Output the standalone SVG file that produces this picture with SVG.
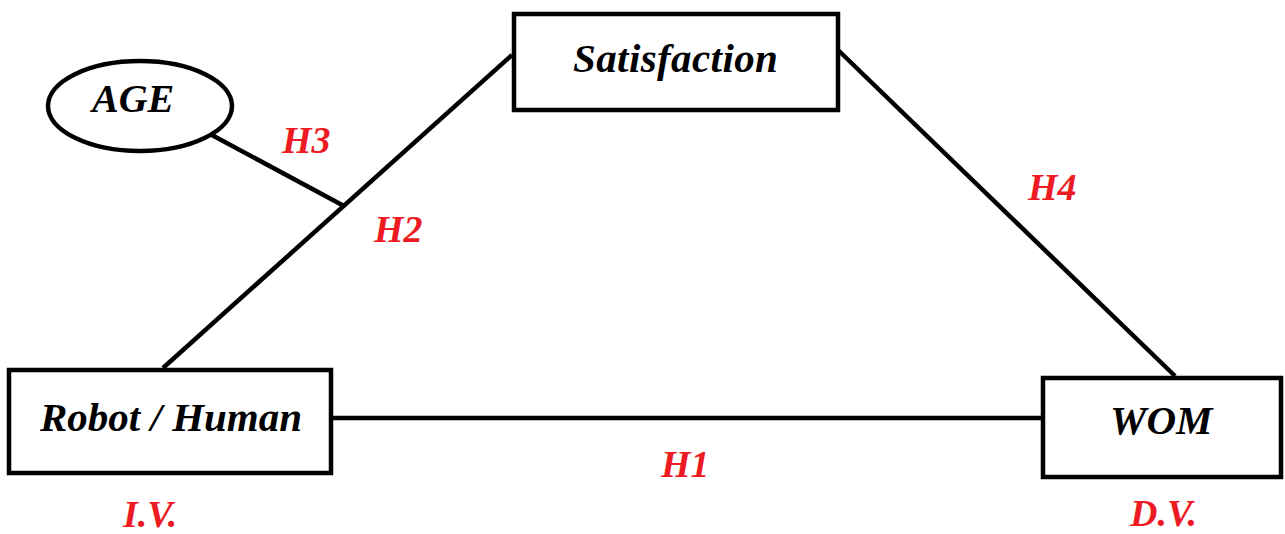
<svg xmlns="http://www.w3.org/2000/svg" width="1285" height="534" viewBox="0 0 1285 534">
<style>
.box{fill:#fff;stroke:#000;stroke-width:4.5}
.ln{stroke:#000;stroke-width:4.5;fill:none}
.t{font-family:"Liberation Serif",serif;font-weight:bold;font-style:italic;fill:#000}
.r{font-family:"Liberation Serif",serif;font-weight:bold;font-style:italic;fill:#ed1c24;font-size:38px}
</style>
<rect width="1285" height="534" fill="#fff"/>
<g id="connectors">
<line class="ln" x1="163" y1="368" x2="512" y2="55"/>
<line class="ln" x1="210" y1="134" x2="344" y2="206"/>
<line class="ln" x1="838" y1="50" x2="1175" y2="376"/>
<line class="ln" x1="331" y1="418" x2="1043" y2="418"/>
</g>
<g id="age">
<ellipse class="box" cx="140" cy="106" rx="92" ry="45"/>
<text class="t" x="92" y="112" font-size="40">AGE</text>
</g>
<g id="satisfaction">
<rect class="box" x="514" y="14" width="324" height="96"/>
<text class="t" x="573" y="72" font-size="41" letter-spacing="0.4">Satisfaction</text>
</g>
<g id="robot">
<rect class="box" x="9" y="370" width="322" height="103"/>
<text class="t" x="40" y="431" font-size="41">Robot / Human</text>
</g>
<g id="wom">
<rect class="box" x="1043" y="378" width="238" height="99"/>
<text class="t" x="1110" y="434" font-size="41">WOM</text>
</g>
<g id="labels">
<text class="r" x="282" y="153">H3</text>
<text class="r" x="374" y="242">H2</text>
<text class="r" x="1028" y="200">H4</text>
<text class="r" x="661" y="477">H1</text>
<text class="r" x="123" y="527">I.V.</text>
<text class="r" x="1130" y="526">D.V.</text>
</g>
</svg>
